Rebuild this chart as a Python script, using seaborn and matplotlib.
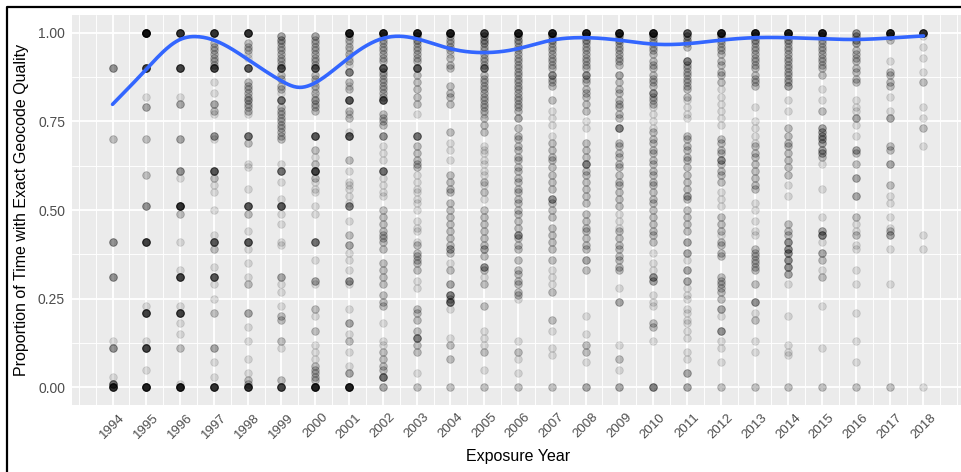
import numpy as np
import pandas as pd
import matplotlib
matplotlib.use("Agg")
import matplotlib.pyplot as plt
from matplotlib.lines import Line2D
import seaborn as sns

# Observed proportions per exposure year: (proportion, number of subjects at that value)
obs_1994 = [(0.90, 4), (0.70, 2), (0.41, 4), (0.31, 4), (0.13, 1), (0.11, 4), (0.03, 1), (0.01, 6), (0.00, 12)]
obs_1995 = [(1.00, 20), (0.90, 10), (0.82, 1), (0.79, 3), (0.70, 2), (0.60, 2), (0.51, 4), (0.41, 10), (0.23, 1),
            (0.21, 10), (0.13, 1), (0.11, 10), (0.05, 1), (0.00, 15)]
obs_1996 = [(1.00, 12), (0.90, 10), (0.82, 1), (0.80, 3), (0.70, 3), (0.61, 4), (0.59, 1), (0.51, 12), (0.49, 2),
            (0.41, 1), (0.33, 1), (0.31, 10), (0.23, 1), (0.21, 10), (0.18, 1), (0.15, 1), (0.11, 2), (0.01, 1),
            (0.00, 15)]
obs_1997 = [(1.00, 12), (0.97, 2), (0.96, 2), (0.95, 2), (0.94, 2), (0.93, 2), (0.92, 2), (0.91, 2), (0.90, 10),
            (0.86, 1), (0.83, 1), (0.80, 3), (0.78, 2), (0.77, 1), (0.71, 4), (0.70, 1), (0.61, 8), (0.59, 2),
            (0.57, 1), (0.55, 1), (0.50, 1), (0.43, 1), (0.41, 8), (0.39, 2), (0.34, 1), (0.31, 8), (0.29, 1),
            (0.25, 1), (0.21, 2), (0.11, 3), (0.07, 1), (0.03, 1), (0.00, 12)]
obs_1998 = [(1.00, 12), (0.97, 2), (0.96, 2), (0.95, 2), (0.94, 1), (0.93, 1), (0.90, 8), (0.86, 2), (0.85, 2),
            (0.84, 2), (0.83, 2), (0.82, 2), (0.81, 3), (0.80, 2), (0.79, 2), (0.78, 2), (0.77, 1), (0.71, 6),
            (0.69, 2), (0.63, 1), (0.62, 1), (0.56, 1), (0.51, 8), (0.49, 2), (0.44, 1), (0.41, 8), (0.39, 1),
            (0.35, 1), (0.31, 1), (0.29, 2), (0.21, 3), (0.17, 1), (0.13, 1), (0.08, 1), (0.04, 1), (0.02, 2),
            (0.01, 2), (0.00, 12)]
obs_1999 = [(0.99, 3), (0.98, 3), (0.97, 2), (0.96, 2), (0.95, 2), (0.94, 2), (0.93, 2), (0.92, 2), (0.91, 2),
            (0.90, 8), (0.88, 2), (0.87, 2), (0.85, 2), (0.84, 2), (0.83, 1), (0.81, 6), (0.79, 2), (0.78, 2),
            (0.77, 2), (0.76, 2), (0.75, 2), (0.74, 2), (0.73, 2), (0.72, 2), (0.71, 2), (0.70, 2), (0.63, 1),
            (0.61, 6), (0.58, 1), (0.53, 1), (0.51, 8), (0.49, 1), (0.46, 1), (0.41, 1), (0.40, 1), (0.31, 3),
            (0.29, 1), (0.27, 1), (0.23, 1), (0.20, 2), (0.19, 2), (0.13, 2), (0.11, 1), (0.02, 2), (0.00, 10)]
obs_2000 = [(0.99, 3), (0.98, 2), (0.97, 2), (0.96, 2), (0.95, 2), (0.94, 2), (0.93, 2), (0.92, 2), (0.91, 2),
            (0.90, 8), (0.88, 2), (0.87, 2), (0.86, 1), (0.85, 2), (0.84, 1), (0.83, 2), (0.82, 1), (0.81, 3),
            (0.80, 2), (0.79, 2), (0.78, 2), (0.71, 8), (0.67, 2), (0.65, 1), (0.63, 2), (0.61, 10), (0.59, 2),
            (0.58, 1), (0.56, 1), (0.55, 1), (0.51, 1), (0.49, 1), (0.41, 6), (0.36, 1), (0.30, 3), (0.29, 1),
            (0.22, 2), (0.20, 1), (0.16, 2), (0.12, 1), (0.10, 1), (0.08, 1), (0.06, 2), (0.05, 2), (0.04, 2),
            (0.03, 2), (0.02, 2), (0.00, 15)]
obs_2001 = [(1.00, 15), (0.99, 2), (0.98, 2), (0.97, 1), (0.96, 2), (0.95, 1), (0.94, 2), (0.93, 1), (0.92, 2),
            (0.91, 1), (0.89, 5), (0.86, 2), (0.85, 1), (0.84, 2), (0.81, 8), (0.78, 2), (0.77, 1), (0.76, 2),
            (0.72, 1), (0.71, 8), (0.64, 2), (0.61, 1), (0.58, 1), (0.57, 1), (0.56, 1), (0.54, 1), (0.52, 1),
            (0.51, 5), (0.47, 1), (0.43, 2), (0.40, 3), (0.38, 1), (0.36, 1), (0.33, 1), (0.30, 4), (0.29, 1),
            (0.22, 1), (0.18, 3), (0.15, 1), (0.13, 2), (0.10, 1), (0.06, 1), (0.04, 3), (0.00, 15)]
obs_2002 = [(1.00, 15), (0.99, 2), (0.98, 2), (0.97, 2), (0.96, 2), (0.95, 2), (0.94, 2), (0.93, 2), (0.92, 2),
            (0.90, 8), (0.89, 2), (0.88, 2), (0.87, 2), (0.86, 2), (0.85, 2), (0.84, 2), (0.83, 2), (0.82, 2),
            (0.81, 8), (0.77, 2), (0.76, 2), (0.75, 2), (0.74, 2), (0.71, 4), (0.68, 1), (0.66, 1), (0.64, 1),
            (0.61, 6), (0.59, 1), (0.57, 1), (0.55, 1), (0.54, 1), (0.50, 2), (0.48, 2), (0.46, 2), (0.44, 2),
            (0.43, 2), (0.42, 2), (0.41, 2), (0.39, 2), (0.35, 2), (0.33, 2), (0.31, 2), (0.29, 2), (0.26, 2),
            (0.24, 2), (0.23, 2), (0.18, 1), (0.13, 1), (0.12, 1), (0.10, 2), (0.08, 2), (0.06, 2), (0.05, 2),
            (0.03, 6), (0.00, 3)]
obs_2003 = [(1.00, 15), (0.99, 3), (0.98, 3), (0.97, 2), (0.96, 2), (0.95, 2), (0.94, 2), (0.93, 2), (0.92, 2),
            (0.90, 8), (0.88, 2), (0.86, 2), (0.84, 2), (0.82, 2), (0.80, 2), (0.77, 1), (0.71, 6), (0.68, 2),
            (0.66, 2), (0.64, 2), (0.63, 2), (0.62, 2), (0.60, 1), (0.58, 1), (0.56, 1), (0.55, 1), (0.53, 1),
            (0.52, 1), (0.50, 1), (0.47, 1), (0.45, 1), (0.44, 1), (0.41, 1), (0.40, 2), (0.38, 2), (0.37, 2),
            (0.36, 2), (0.35, 2), (0.33, 2), (0.30, 1), (0.28, 1), (0.22, 2), (0.21, 2), (0.19, 2), (0.16, 2),
            (0.14, 5), (0.12, 2), (0.10, 2), (0.04, 1), (0.00, 2)]
obs_2004 = [(1.00, 15), (0.99, 2), (0.98, 2), (0.97, 2), (0.96, 2), (0.95, 2), (0.94, 1), (0.93, 2), (0.91, 2),
            (0.90, 2), (0.85, 2), (0.83, 2), (0.82, 2), (0.80, 2), (0.72, 2), (0.69, 1), (0.67, 1), (0.64, 1),
            (0.60, 2), (0.58, 2), (0.56, 2), (0.55, 2), (0.52, 2), (0.50, 2), (0.48, 2), (0.46, 2), (0.44, 2),
            (0.42, 2), (0.40, 2), (0.39, 3), (0.38, 2), (0.35, 1), (0.33, 2), (0.29, 3), (0.26, 5), (0.25, 2),
            (0.24, 6), (0.22, 1), (0.14, 1), (0.12, 2), (0.08, 2), (0.00, 2)]
obs_2005 = [(1.00, 10), (0.99, 3), (0.98, 3), (0.97, 3), (0.96, 2), (0.95, 2), (0.94, 2), (0.93, 2), (0.92, 2),
            (0.91, 2), (0.90, 6), (0.88, 2), (0.87, 2), (0.86, 2), (0.85, 2), (0.84, 2), (0.83, 2), (0.82, 2),
            (0.81, 2), (0.80, 2), (0.79, 2), (0.78, 2), (0.77, 1), (0.76, 2), (0.74, 2), (0.72, 2), (0.68, 1),
            (0.67, 1), (0.66, 1), (0.64, 1), (0.63, 1), (0.61, 1), (0.60, 1), (0.58, 2), (0.57, 1), (0.55, 2),
            (0.53, 1), (0.50, 2), (0.48, 2), (0.46, 2), (0.44, 2), (0.42, 2), (0.40, 2), (0.39, 3), (0.37, 2),
            (0.34, 4), (0.33, 2), (0.31, 1), (0.29, 2), (0.23, 2), (0.16, 1), (0.14, 1), (0.12, 1), (0.10, 2),
            (0.05, 1), (0.00, 2)]
obs_2006 = [(1.00, 15), (0.99, 3), (0.98, 3), (0.97, 2), (0.96, 2), (0.95, 2), (0.94, 2), (0.93, 2), (0.92, 2),
            (0.91, 2), (0.90, 2), (0.89, 2), (0.88, 2), (0.87, 2), (0.86, 2), (0.85, 2), (0.84, 2), (0.83, 2),
            (0.82, 2), (0.81, 2), (0.80, 2), (0.79, 2), (0.78, 2), (0.76, 3), (0.73, 2), (0.71, 2), (0.70, 2),
            (0.68, 2), (0.67, 2), (0.65, 2), (0.64, 2), (0.62, 2), (0.61, 2), (0.59, 2), (0.58, 2), (0.56, 2),
            (0.55, 2), (0.53, 2), (0.52, 2), (0.50, 2), (0.49, 2), (0.47, 2), (0.45, 2), (0.43, 4), (0.42, 2),
            (0.40, 2), (0.39, 2), (0.36, 2), (0.33, 2), (0.32, 2), (0.30, 2), (0.29, 2), (0.27, 2), (0.26, 2),
            (0.25, 1), (0.13, 1), (0.10, 2), (0.08, 1), (0.04, 1), (0.00, 2)]
obs_2007 = [(1.00, 15), (0.99, 3), (0.98, 3), (0.97, 2), (0.96, 2), (0.95, 2), (0.94, 2), (0.93, 2), (0.92, 2),
            (0.91, 2), (0.90, 2), (0.88, 4), (0.87, 2), (0.86, 2), (0.85, 2), (0.81, 2), (0.78, 1), (0.76, 1),
            (0.74, 1), (0.71, 1), (0.69, 2), (0.67, 2), (0.65, 2), (0.64, 2), (0.62, 2), (0.60, 2), (0.58, 2),
            (0.56, 2), (0.53, 4), (0.52, 2), (0.50, 2), (0.48, 2), (0.45, 2), (0.43, 2), (0.41, 2), (0.39, 2),
            (0.36, 2), (0.33, 1), (0.31, 1), (0.29, 1), (0.27, 2), (0.19, 2), (0.16, 1), (0.11, 1), (0.09, 1),
            (0.00, 2)]
obs_2008 = [(1.00, 15), (0.99, 3), (0.98, 3), (0.97, 2), (0.96, 2), (0.95, 2), (0.94, 2), (0.93, 2), (0.92, 2),
            (0.91, 2), (0.90, 2), (0.88, 4), (0.87, 2), (0.86, 2), (0.84, 2), (0.83, 2), (0.82, 2), (0.80, 2),
            (0.78, 2), (0.75, 1), (0.73, 1), (0.69, 2), (0.67, 2), (0.65, 2), (0.63, 5), (0.61, 2), (0.60, 2),
            (0.58, 2), (0.56, 2), (0.54, 2), (0.52, 2), (0.49, 2), (0.47, 2), (0.45, 2), (0.44, 2), (0.42, 2),
            (0.40, 2), (0.39, 2), (0.36, 3), (0.33, 2), (0.20, 1), (0.15, 1), (0.12, 2), (0.10, 2), (0.07, 1),
            (0.00, 3)]
obs_2009 = [(1.00, 15), (0.99, 3), (0.98, 3), (0.97, 2), (0.96, 2), (0.95, 2), (0.94, 2), (0.93, 2), (0.92, 2),
            (0.91, 2), (0.88, 3), (0.86, 2), (0.84, 2), (0.83, 2), (0.81, 2), (0.80, 2), (0.79, 2), (0.77, 2),
            (0.76, 2), (0.73, 5), (0.69, 2), (0.68, 2), (0.66, 2), (0.65, 2), (0.63, 2), (0.62, 2), (0.60, 2),
            (0.58, 2), (0.57, 2), (0.55, 2), (0.53, 2), (0.51, 2), (0.49, 1), (0.47, 1), (0.45, 1), (0.44, 2),
            (0.42, 2), (0.40, 2), (0.39, 2), (0.37, 2), (0.36, 2), (0.34, 2), (0.33, 2), (0.28, 1), (0.24, 3),
            (0.12, 1), (0.08, 2), (0.05, 1), (0.00, 3)]
obs_2010 = [(1.00, 15), (0.99, 3), (0.98, 2), (0.97, 2), (0.96, 2), (0.95, 2), (0.94, 2), (0.92, 2), (0.91, 2),
            (0.90, 2), (0.88, 2), (0.87, 2), (0.86, 2), (0.85, 2), (0.83, 4), (0.82, 2), (0.81, 2), (0.80, 2),
            (0.79, 1), (0.77, 1), (0.75, 1), (0.73, 1), (0.72, 2), (0.70, 2), (0.69, 2), (0.67, 2), (0.66, 2),
            (0.64, 2), (0.63, 2), (0.61, 2), (0.60, 2), (0.58, 2), (0.57, 2), (0.55, 2), (0.53, 2), (0.52, 2),
            (0.50, 2), (0.48, 2), (0.46, 2), (0.44, 2), (0.43, 2), (0.41, 2), (0.38, 1), (0.35, 1), (0.33, 1),
            (0.31, 4), (0.30, 3), (0.26, 1), (0.24, 1), (0.23, 1), (0.18, 2), (0.17, 2), (0.13, 1), (0.00, 5)]
obs_2011 = [(1.00, 8), (0.99, 3), (0.98, 3), (0.97, 2), (0.96, 2), (0.92, 5), (0.91, 2), (0.90, 2), (0.89, 2),
            (0.88, 2), (0.87, 2), (0.86, 2), (0.85, 2), (0.84, 2), (0.82, 2), (0.81, 1), (0.79, 1), (0.77, 1),
            (0.76, 1), (0.71, 2), (0.70, 2), (0.68, 2), (0.67, 2), (0.65, 2), (0.64, 2), (0.62, 2), (0.60, 2),
            (0.58, 2), (0.56, 2), (0.54, 3), (0.53, 2), (0.50, 2), (0.48, 2), (0.46, 2), (0.44, 2), (0.41, 3),
            (0.38, 3), (0.36, 1), (0.33, 3), (0.30, 3), (0.28, 1), (0.26, 1), (0.25, 1), (0.22, 1), (0.21, 1),
            (0.19, 1), (0.18, 1), (0.16, 1), (0.14, 1), (0.10, 1), (0.08, 1), (0.04, 3), (0.00, 3)]
obs_2012 = [(1.00, 15), (0.99, 3), (0.98, 2), (0.97, 2), (0.96, 2), (0.95, 2), (0.94, 2), (0.92, 2), (0.91, 2),
            (0.89, 2), (0.88, 2), (0.86, 2), (0.84, 1), (0.82, 1), (0.80, 1), (0.78, 1), (0.76, 1), (0.74, 1),
            (0.70, 2), (0.69, 2), (0.67, 2), (0.66, 2), (0.64, 4), (0.63, 2), (0.61, 2), (0.60, 2), (0.58, 2),
            (0.55, 1), (0.53, 1), (0.51, 1), (0.48, 2), (0.46, 2), (0.44, 2), (0.43, 1), (0.41, 2), (0.40, 2),
            (0.38, 2), (0.37, 2), (0.31, 2), (0.30, 2), (0.29, 2), (0.28, 2), (0.27, 2), (0.25, 2), (0.22, 3),
            (0.20, 1), (0.16, 4), (0.13, 1), (0.11, 1), (0.07, 1), (0.00, 2)]
obs_2013 = [(1.00, 15), (0.99, 3), (0.98, 3), (0.97, 2), (0.96, 2), (0.95, 2), (0.94, 2), (0.93, 2), (0.92, 2),
            (0.91, 2), (0.90, 2), (0.88, 2), (0.87, 2), (0.86, 2), (0.85, 2), (0.79, 1), (0.75, 1), (0.73, 1),
            (0.71, 1), (0.69, 1), (0.68, 2), (0.66, 2), (0.65, 2), (0.63, 2), (0.61, 2), (0.59, 2), (0.57, 2),
            (0.56, 2), (0.52, 1), (0.50, 1), (0.47, 1), (0.44, 1), (0.43, 1), (0.39, 2), (0.38, 2), (0.37, 2),
            (0.36, 2), (0.35, 2), (0.34, 2), (0.33, 2), (0.29, 2), (0.24, 4), (0.21, 1), (0.19, 2), (0.13, 1),
            (0.10, 1), (0.00, 2)]
obs_2014 = [(1.00, 15), (0.99, 3), (0.98, 3), (0.97, 2), (0.96, 2), (0.95, 2), (0.94, 2), (0.93, 2), (0.92, 2),
            (0.91, 2), (0.90, 2), (0.89, 2), (0.88, 2), (0.87, 2), (0.86, 2), (0.85, 3), (0.81, 1), (0.78, 1),
            (0.73, 2), (0.71, 2), (0.69, 2), (0.68, 2), (0.66, 2), (0.64, 2), (0.62, 2), (0.60, 2), (0.57, 1),
            (0.54, 1), (0.46, 2), (0.44, 2), (0.43, 2), (0.41, 4), (0.39, 4), (0.38, 4), (0.36, 4), (0.34, 4),
            (0.32, 3), (0.29, 1), (0.20, 1), (0.12, 1), (0.10, 1), (0.09, 1), (0.00, 2)]
obs_2015 = [(1.00, 15), (0.99, 3), (0.98, 2), (0.97, 2), (0.96, 2), (0.95, 2), (0.94, 2), (0.93, 2), (0.92, 2),
            (0.91, 2), (0.90, 2), (0.88, 2), (0.84, 1), (0.81, 1), (0.78, 2), (0.73, 3), (0.72, 3), (0.71, 3),
            (0.70, 3), (0.69, 3), (0.67, 3), (0.66, 3), (0.65, 2), (0.63, 1), (0.56, 1), (0.48, 1), (0.44, 3),
            (0.43, 5), (0.41, 1), (0.38, 3), (0.36, 2), (0.33, 1), (0.31, 2), (0.23, 1), (0.11, 1), (0.00, 2)]
obs_2016 = [(1.00, 4), (0.99, 3), (0.98, 3), (0.97, 3), (0.95, 2), (0.94, 2), (0.93, 2), (0.92, 2), (0.90, 2),
            (0.89, 2), (0.87, 2), (0.86, 2), (0.81, 1), (0.79, 1), (0.78, 1), (0.76, 3), (0.74, 1), (0.71, 1),
            (0.67, 3), (0.66, 2), (0.63, 2), (0.59, 3), (0.54, 3), (0.48, 2), (0.46, 1), (0.44, 1), (0.43, 2),
            (0.40, 1), (0.39, 1), (0.33, 1), (0.29, 1), (0.21, 1), (0.13, 1), (0.07, 1), (0.00, 2)]
obs_2017 = [(1.00, 15), (0.99, 3), (0.98, 2), (0.92, 1), (0.89, 2), (0.88, 2), (0.86, 2), (0.85, 2), (0.82, 1),
            (0.78, 1), (0.76, 3), (0.68, 2), (0.67, 2), (0.63, 3), (0.57, 2), (0.54, 1), (0.52, 1), (0.48, 1),
            (0.45, 1), (0.44, 2), (0.43, 3), (0.39, 1), (0.29, 1), (0.00, 2)]
obs_2018 = [(1.00, 12), (0.99, 1), (0.96, 1), (0.93, 1), (0.89, 1), (0.86, 2), (0.79, 1), (0.76, 1), (0.73, 2),
            (0.68, 1), (0.43, 1), (0.39, 1), (0.00, 1)]

years = list(range(1994, 2019))
year_obs = [obs_1994, obs_1995, obs_1996, obs_1997, obs_1998, obs_1999, obs_2000, obs_2001, obs_2002,
            obs_2003, obs_2004, obs_2005, obs_2006, obs_2007, obs_2008, obs_2009, obs_2010, obs_2011,
            obs_2012, obs_2013, obs_2014, obs_2015, obs_2016, obs_2017, obs_2018]

# Smoothed trend of the proportion over exposure year
fit_years = [1994, 1995, 1996, 1996.5, 1997, 1998, 1999, 1999.5, 2000, 2001, 2002, 2002.5, 2003, 2004,
             2005, 2006, 2007, 2008, 2009, 2010, 2011, 2012, 2013, 2014, 2015, 2016, 2017, 2018]
fit_values = [0.798, 0.897, 0.981, 0.989, 0.979, 0.925, 0.864, 0.846, 0.859, 0.930, 0.984, 0.990, 0.983,
              0.955, 0.944, 0.955, 0.979, 0.986, 0.979, 0.968, 0.969, 0.979, 0.986, 0.986, 0.983, 0.981,
              0.985, 0.991]

y_ticks = [0.00, 0.25, 0.50, 0.75, 1.00]
y_ticklabels = ["0.00", "0.25", "0.50", "0.75", "1.00"]

rows = []
for yr, obs in zip(years, year_obs):
    for val, n in obs:
        rows.extend([(yr, val)] * n)
df = pd.DataFrame(rows, columns=["year", "prop"])


def natural_spline(xk, yk, xs):
    """Natural cubic spline through the knots, evaluated at xs."""
    xk = np.asarray(xk, float)
    yk = np.asarray(yk, float)
    n = len(xk)
    h = np.diff(xk)
    A = np.zeros((n, n))
    b = np.zeros(n)
    A[0, 0] = A[-1, -1] = 1.0
    for i in range(1, n - 1):
        A[i, i - 1] = h[i - 1]
        A[i, i] = 2 * (h[i - 1] + h[i])
        A[i, i + 1] = h[i]
        b[i] = 3 * ((yk[i + 1] - yk[i]) / h[i] - (yk[i] - yk[i - 1]) / h[i - 1])
    c = np.linalg.solve(A, b)
    idx = np.clip(np.searchsorted(xk, xs) - 1, 0, n - 2)
    dx = xs - xk[idx]
    bcoef = (yk[idx + 1] - yk[idx]) / h[idx] - h[idx] * (2 * c[idx] + c[idx + 1]) / 3
    dcoef = (c[idx + 1] - c[idx]) / (3 * h[idx])
    return yk[idx] + bcoef * dx + c[idx] * dx ** 2 + dcoef * dx ** 3


grid = np.linspace(fit_years[0], fit_years[-1], 600)
trend = pd.DataFrame({"year": grid, "fit": natural_spline(fit_years, fit_values, grid)})

sns.set_theme(style="darkgrid")
plt.rcParams["font.family"] = ["Liberation Sans", "DejaVu Sans"]

W, H = 961, 472
fig = plt.figure(figsize=(W / 100, H / 100), dpi=100)
fig.patch.set_facecolor("white")
ax = fig.add_axes([72 / W, (H - 405) / H, (964 - 72) / W, (405 - 15) / H])
ax.set_facecolor("#EBEBEB")

sns.scatterplot(data=df, x="year", y="prop", color="black", alpha=0.12, s=30,
                edgecolor="black", linewidth=0.6, ax=ax, zorder=3, legend=False)
sns.lineplot(data=trend, x="year", y="fit", color="#3366FF", linewidth=2.6, ax=ax, zorder=4)

ax.set_xlim(1992.8, 2019.2)
ax.set_ylim(-0.05, 1.05)

ax.set_xticks(years)
ax.set_xticklabels([str(y) for y in years], rotation=45, ha="center", va="top",
                   fontsize=9.5, color="#4D4D4D")
ax.set_xticks(np.arange(1993.0, 2019.01, 0.5), minor=True)
ax.set_yticks(y_ticks)
ax.set_yticklabels(y_ticklabels, fontsize=10, color="#4D4D4D")
ax.set_yticks([0.125, 0.375, 0.625, 0.875], minor=True)

ax.grid(which="major", color="white", linewidth=1.3)
ax.grid(which="minor", color="white", linewidth=0.65)
ax.set_axisbelow(True)
ax.tick_params(which="major", length=3, width=1, color="#333333", pad=2)
ax.tick_params(which="minor", length=0)
ax.tick_params(axis="x", pad=1.5)
for s in ax.spines.values():
    s.set_visible(False)

ax.set_xlabel("")
ax.set_ylabel("")
fig.text(518 / W, 1 - 457 / H, "Exposure Year", ha="center", va="center", fontsize=11.5, color="black")
fig.text(22 / W, 1 - 210 / H, "Proportion of Time with Exact Geocode Quality", ha="center", va="center",
         rotation=90, fontsize=11.5, color="black")

# Outer frame (top and left edges)
fig.add_artist(Line2D([6.5 / W, 6.5 / W, 1.0], [0.0, 1 - 6.5 / H, 1 - 6.5 / H],
                      transform=fig.transFigure, color="black", linewidth=1.6))

fig.savefig("out.png", dpi=100)
